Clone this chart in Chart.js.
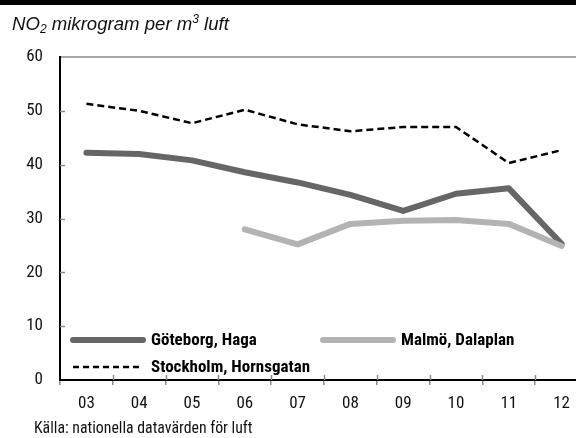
<!DOCTYPE html>
<html>
<head>
<meta charset="utf-8">
<script src="https://cdn.jsdelivr.net/npm/chart.js@4/dist/chart.umd.min.js"></script>
<style>
  html, body { margin: 0; padding: 0; background: #fff; overflow: hidden; }
  body { width: 576px; height: 438px; position: relative; }
  #topBar { position: absolute; left: 0; top: 0; width: 576px; height: 5px; background: #000; }
  #title { position: absolute; left: 12px; top: 13px; font: italic 18.6px "Liberation Sans", Arial, sans-serif; color: #111; white-space: nowrap; }
  #title sub, #title sup { font-size: 12px; }
  #title sub { vertical-align: -3px; }
  #title sup { vertical-align: 7px; line-height: 0; }
  #source { position: absolute; left: 34px; top: 418px; font: 15.8px "Roboto Condensed", Roboto, sans-serif; font-stretch: condensed; color: #111; white-space: nowrap; }
  #chartWrap { position: absolute; left: 0; top: 0; width: 600px; height: 438px; }
</style>
</head>
<body>
<div id="chartWrap"><canvas id="no2Chart" width="600" height="438"></canvas></div>
<div id="topBar"></div>
<div id="title">NO<sub>2</sub> mikrogram per m<sup>3</sup> luft</div>
<div id="source">Källa: nationella datavärden för luft</div>
<script>
  const years = ["03", "04", "05", "06", "07", "08", "09", "10", "11", "12"];
  const goteborg = [42.2, 42.0, 40.8, 38.6, 36.7, 34.4, 31.4, 34.6, 35.6, 25.3];
  const malmo = [null, null, null, 28.0, 25.2, 29.0, 29.6, 29.7, 29.0, 24.9];
  const stockholm = [51.3, 50.0, 47.7, 50.2, 47.5, 46.2, 47.0, 47.0, 40.3, 42.7];
  const yMin = 0;
  const yMax = 60;
  const yStep = 10;

  const narrow = '"Roboto Condensed", Roboto, sans-serif';

  // inward tick marks on both axes
  const innerTicks = {
    id: "innerTicks",
    afterDraw(chart) {
      const ctx = chart.ctx;
      const area = chart.chartArea;
      const x = chart.scales.x;
      const y = chart.scales.y;
      ctx.save();
      ctx.strokeStyle = "#8c8c8c";
      ctx.lineWidth = 1.5;
      y.ticks.forEach((t) => {
        if (t.value === yMin || t.value === yMax) return;
        const py = Math.round(y.getPixelForValue(t.value)) + 0.5;
        ctx.beginPath();
        ctx.moveTo(area.left, py);
        ctx.lineTo(area.left + 5, py);
        ctx.stroke();
      });
      for (let i = 1; i < years.length; i++) {
        const px = Math.round((x.getPixelForValue(i - 1) + x.getPixelForValue(i)) / 2) + 0.5;
        ctx.beginPath();
        ctx.moveTo(px, area.bottom);
        ctx.lineTo(px, area.bottom - 5);
        ctx.stroke();
      }
      ctx.restore();
    },
  };

  // legend inside the plot, bottom left
  const insideLegend = {
    id: "insideLegend",
    afterDatasetsDraw(chart, args, opts) {
      const ctx = chart.ctx;
      ctx.save();
      ctx.font = opts.font;
      ctx.textBaseline = "middle";
      ctx.fillStyle = "#000";
      chart.data.datasets.forEach((ds, i) => {
        const pos = opts.items[i];
        ctx.beginPath();
        ctx.strokeStyle = ds.borderColor;
        ctx.lineWidth = ds.borderWidth;
        ctx.lineCap = ds.borderDash ? "butt" : "round";
        ctx.setLineDash(ds.borderDash ? [6, 4] : []);
        ctx.moveTo(pos.x, pos.y);
        ctx.lineTo(pos.x + opts.lineWidth, pos.y);
        ctx.stroke();
        ctx.fillText(ds.label, pos.x + opts.lineWidth + 8, pos.y + 1);
      });
      ctx.restore();
    },
  };

  new Chart(document.getElementById("no2Chart"), {
    type: "line",
    data: {
      labels: years,
      datasets: [
        {
          label: "Göteborg, Haga",
          data: goteborg,
          borderColor: "#666666",
          borderWidth: 6,
          borderCapStyle: "round",
          borderJoinStyle: "round",
          order: 2,
        },
        {
          label: "Malmö, Dalaplan",
          data: malmo,
          borderColor: "#b3b3b3",
          borderWidth: 6,
          borderCapStyle: "round",
          borderJoinStyle: "round",
          order: 1,
        },
        {
          label: "Stockholm, Hornsgatan",
          data: stockholm,
          borderColor: "#000000",
          borderWidth: 2.5,
          borderDash: [7, 4],
          order: 0,
        },
      ],
    },
    options: {
      responsive: false,
      devicePixelRatio: 1,
      animation: false,
      elements: { point: { radius: 0, hoverRadius: 0 }, line: { tension: 0 } },
      layout: { padding: { top: 57, right: 12, bottom: 0, left: 0 } },
      scales: {
        x: {
          offset: true,
          afterFit: (scale) => { scale.height = 58; },
          border: { color: "#000", width: 2 },
          grid: {
            offset: true,
            drawOnChartArea: false,
            drawTicks: true,
            tickLength: 5,
            color: "#8c8c8c",
            lineWidth: 1.5,
          },
          ticks: {
            color: "#111",
            padding: 9,
            maxRotation: 0,
            font: { family: narrow, size: 17 },
          },
        },
        y: {
          min: yMin,
          max: yMax,
          afterFit: (scale) => { scale.width = 60; },
          border: { color: "#000", width: 2 },
          grid: {
            drawTicks: false,
            color: (c) => (c.tick && c.tick.value === yMax ? "#a6a6a6" : "rgba(0,0,0,0)"),
            lineWidth: 2,
          },
          ticks: {
            stepSize: yStep,
            color: "#111",
            padding: 17,
            font: { family: narrow, size: 17 },
          },
        },
      },
      plugins: {
        legend: { display: false },
        tooltip: { enabled: false },
        insideLegend: {
          font: 'bold 17px ' + narrow,
          lineWidth: 70,
          items: [
            { x: 73, y: 340 },
            { x: 323, y: 340 },
            { x: 73, y: 367 },
          ],
        },
      },
    },
    plugins: [innerTicks, insideLegend],
  });
</script>
</body>
</html>
